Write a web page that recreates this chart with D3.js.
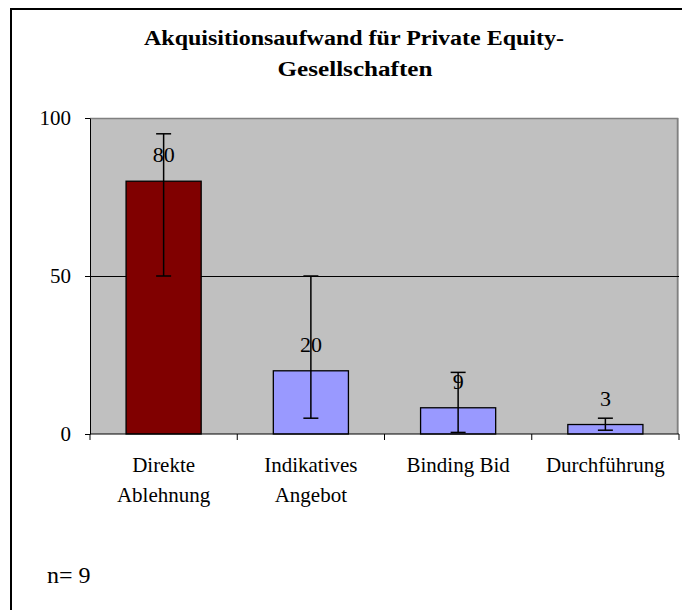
<!DOCTYPE html>
<head>
  <meta charset="utf-8">
  <script src="https://d3js.org/d3.v7.min.js"></script>
</head>
<body style="margin:0">
<script>
// chart data
var categories = [["Direkte", "Ablehnung"], ["Indikatives", "Angebot"], ["Binding Bid"], ["Durchführung"]];
var values = [80, 20, 8.3, 3];
var valueLabels = ["80", "20", "9", "3"];
var errLow = [50, 5, 0.5, 1.2];
var errHigh = [95, 50, 19.5, 5];
var barColors = ["#800000", "#9999ff", "#9999ff", "#9999ff"];
var yTicks = [0, 50, 100];

var W = 682, H = 610;
var plot = {left: 90, right: 679, top: 118, bottom: 434};
var fontSerif = "Liberation Serif";

var svg = d3.select("body").append("svg")
    .attr("width", W)
    .attr("height", H)
    .attr("font-family", fontSerif);

// outer frame
svg.append("rect")
    .attr("x", 11).attr("y", 9)
    .attr("width", 690).attr("height", 620)
    .attr("fill", "none").attr("stroke", "#000").attr("stroke-width", 2);

// title
var title = svg.append("text")
    .attr("text-anchor", "middle")
    .attr("font-family", fontSerif)
    .attr("font-size", 20)
    .attr("font-weight", "bold");
title.append("tspan").attr("x", 354).attr("y", 45)
    .attr("textLength", 420).attr("lengthAdjust", "spacingAndGlyphs")
    .text("Akquisitionsaufwand für Private Equity-");
title.append("tspan").attr("x", 355).attr("y", 76)
    .attr("textLength", 155).attr("lengthAdjust", "spacingAndGlyphs")
    .text("Gesellschaften");

var idx = d3.range(values.length);

var x = d3.scaleBand()
    .domain(idx)
    .range([plot.left, plot.right])
    .paddingInner(0.49)
    .paddingOuter(0.245);

var y = d3.scaleLinear()
    .domain([0, 100])
    .range([plot.bottom, plot.top]);

// plot background
svg.append("rect")
    .attr("x", plot.left).attr("y", plot.top)
    .attr("width", plot.right - plot.left).attr("height", plot.bottom - plot.top)
    .attr("fill", "#c0c0c0");
svg.append("path")
    .attr("d", "M" + plot.left + "," + (plot.top + 0.5) + "H" + (plot.right - 1.5) + "V" + plot.bottom)
    .attr("fill", "none").attr("stroke", "#808080").attr("stroke-width", 1.5);

// gridline at 50
svg.append("line")
    .attr("x1", plot.left).attr("x2", plot.right)
    .attr("y1", Math.round(y(50)) + 0.5).attr("y2", Math.round(y(50)) + 0.5)
    .attr("stroke", "#000");

// bars
svg.selectAll(".bar")
    .data(idx)
  .enter().append("rect")
    .attr("class", "bar")
    .attr("x", i => x(i))
    .attr("y", i => y(values[i]))
    .attr("width", x.bandwidth())
    .attr("height", i => y(0) - y(values[i]))
    .attr("fill", i => barColors[i])
    .attr("stroke", "#000")
    .attr("stroke-width", 1.3);

// error bars
var capW = 15;
var err = svg.selectAll(".err")
    .data(idx)
  .enter().append("g")
    .attr("class", "err")
    .attr("stroke", "#000")
    .attr("stroke-width", 1.5);
err.append("line")
    .attr("x1", i => x(i) + x.bandwidth() / 2).attr("x2", i => x(i) + x.bandwidth() / 2)
    .attr("y1", i => y(errLow[i])).attr("y2", i => y(errHigh[i]));
err.append("line")
    .attr("x1", i => x(i) + x.bandwidth() / 2 - capW / 2).attr("x2", i => x(i) + x.bandwidth() / 2 + capW / 2)
    .attr("y1", i => y(errHigh[i])).attr("y2", i => y(errHigh[i]));
err.append("line")
    .attr("x1", i => x(i) + x.bandwidth() / 2 - capW / 2).attr("x2", i => x(i) + x.bandwidth() / 2 + capW / 2)
    .attr("y1", i => y(errLow[i])).attr("y2", i => y(errLow[i]));

// value labels
svg.selectAll(".val")
    .data(idx)
  .enter().append("text")
    .attr("class", "val")
    .attr("x", i => x(i) + x.bandwidth() / 2)
    .attr("y", i => y(values[i]) - 19)
    .attr("text-anchor", "middle")
    .attr("font-family", fontSerif)
    .attr("font-size", 22)
    .text(i => valueLabels[i]);

// y axis
var yAxis = svg.append("g")
    .attr("transform", "translate(" + plot.left + ",0)")
    .call(d3.axisLeft(y).tickValues(yTicks).tickSize(5).tickSizeOuter(0).tickPadding(14));
yAxis.attr("font-family", fontSerif).attr("font-size", 21);
yAxis.select(".domain").attr("stroke", "#000");
yAxis.selectAll(".tick line").attr("stroke", "#000");
yAxis.selectAll(".tick text").attr("fill", "#000");

// x axis line and category boundary ticks
svg.append("line")
    .attr("x1", plot.left).attr("x2", plot.right)
    .attr("y1", y(0)).attr("y2", y(0))
    .attr("stroke", "#000");
svg.selectAll(".xtick")
    .data(d3.range(values.length + 1))
  .enter().append("line")
    .attr("class", "xtick")
    .attr("x1", i => x.range()[0] + i * x.step()).attr("x2", i => x.range()[0] + i * x.step())
    .attr("y1", y(0)).attr("y2", y(0) + 6)
    .attr("stroke", "#000");

// category labels
var cat = svg.selectAll(".cat")
    .data(idx)
  .enter().append("text")
    .attr("class", "cat")
    .attr("text-anchor", "middle")
    .attr("font-family", fontSerif)
    .attr("font-size", 21);
cat.selectAll("tspan")
    .data(i => categories[i].map(t => ({t: t, i: i})))
  .enter().append("tspan")
    .attr("x", d => x(d.i) + x.bandwidth() / 2)
    .attr("y", (d, j) => 472 + j * 30)
    .text(d => d.t);

// sample size note
svg.append("text")
    .attr("x", 47).attr("y", 583)
    .attr("font-family", fontSerif)
    .attr("font-size", 24)
    .text("n= 9");
</script>
</body>
